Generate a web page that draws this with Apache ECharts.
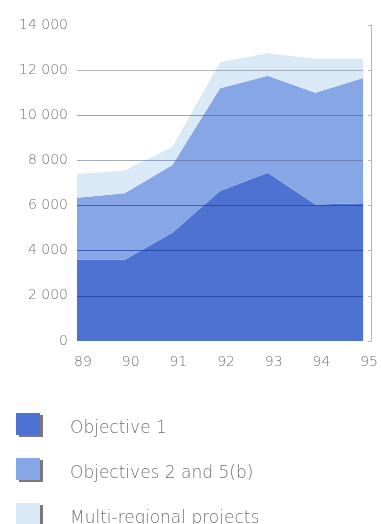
<!DOCTYPE html>
<html>
<head>
<meta charset="utf-8">
<script src="https://cdn.jsdelivr.net/npm/echarts@6/dist/echarts.min.js"></script>
<style>
  html, body { margin: 0; padding: 0; background: #ffffff; }
  #chart { width: 381px; height: 524px; }
</style>
</head>
<body>
<div id="chart"></div>
<script>
// Years on the category axis
const years = ['89', '90', '91', '92', '93', '94', '95'];

// Stacked amounts per programme type
const objective1 = [3600, 3600, 4800, 6650, 7450, 6050, 6100];
const objectives2and5b = [2750, 2950, 3000, 4550, 4300, 4950, 5550];
const multiRegional = [1050, 1000, 800, 1150, 1000, 1500, 850];

const seriesNames = ['Objective 1', 'Objectives 2 and 5(b)', 'Multi-regional projects'];
const seriesColors = ['#4d72d2', '#86a6e5', '#d9e9f6'];

const fontFamily = '"DejaVu Sans", Lato, sans-serif';
const textColor = '#727272';

// Y tick labels use a space as thousands separator: "14 000"
function formatThousands(v) {
  return String(v).replace(/\B(?=(\d{3})+(?!\d))/g, ' ');
}

function areaSeries(name, data, color) {
  return {
    name: name,
    type: 'line',
    stack: 'total',
    data: data,
    symbol: 'none',
    lineStyle: { width: 0 },
    areaStyle: { color: color, opacity: 1 },
    itemStyle: { color: color },
    emphasis: { disabled: true }
  };
}

// One single-item legend per row, stacked down the page;
// the label sits a little below the swatch centre
function legendRow(name, top) {
  return {
    orient: 'horizontal',
    left: 16,
    top: top,
    padding: 0,
    itemWidth: 24,
    itemHeight: 22,
    icon: 'rect',
    selectedMode: false,
    data: [name],
    itemStyle: {
      shadowColor: '#7a7a7a',
      shadowOffsetX: 3,
      shadowOffsetY: 2,
      shadowBlur: 0
    },
    formatter: function (n) { return '{t|' + n + '}'; },
    textStyle: {
      color: textColor,
      fontSize: 17,
      fontWeight: 200,
      fontFamily: fontFamily,
      rich: {
        t: {
          color: textColor,
          fontSize: 17,
          fontWeight: 200,
          fontFamily: fontFamily,
          padding: [10, 0, 0, 25]
        }
      }
    }
  };
}

const chart = echarts.init(document.getElementById('chart'), null, { renderer: 'canvas' });

chart.setOption({
  animation: false,
  backgroundColor: '#ffffff',
  grid: { left: 77, right: 14, top: 25, height: 316, containLabel: false },
  xAxis: {
    type: 'category',
    data: years,
    boundaryGap: false,
    axisLine: { show: false },
    axisTick: { show: false },
    axisLabel: {
      margin: 14,
      color: textColor,
      fontSize: 14,
      fontWeight: 200,
      fontFamily: fontFamily,
      padding: [0, 0, 0, 12]
    },
    splitLine: { show: false }
  },
  yAxis: [
    {
      type: 'value',
      min: 0,
      max: 14000,
      interval: 2000,
      z: 5,
      axisLine: { show: false },
      axisTick: { show: false },
      axisLabel: {
        margin: 9,
        color: textColor,
        fontSize: 14,
        fontWeight: 200,
        fontFamily: fontFamily,
        formatter: formatThousands
      },
      splitLine: {
        show: true,
        lineStyle: {
          // 0, 2 000 ... 14 000
          color: [
            'rgba(0,0,0,0)',
            'rgba(35, 60, 170, 0.75)',
            'rgba(35, 60, 170, 0.75)',
            'rgba(35, 60, 170, 0.7)',
            'rgba(90, 100, 150, 0.55)',
            'rgba(120, 60, 150, 0.55)',
            'rgba(110, 110, 130, 0.5)',
            'rgba(0,0,0,0)'
          ],
          width: 1
        }
      }
    },
    {
      type: 'value',
      min: 0,
      max: 14000,
      interval: 2000,
      position: 'right',
      offset: 8,
      axisLine: { show: true, lineStyle: { color: '#b5b5b5', width: 1 } },
      axisTick: { show: true, inside: true, length: 3, lineStyle: { color: '#b5b5b5' } },
      axisLabel: { show: false },
      splitLine: { show: false }
    }
  ],
  legend: [
    legendRow(seriesNames[0], 413),
    legendRow(seriesNames[1], 458),
    legendRow(seriesNames[2], 503)
  ],
  series: [
    areaSeries(seriesNames[0], objective1, seriesColors[0]),
    areaSeries(seriesNames[1], objectives2and5b, seriesColors[1]),
    areaSeries(seriesNames[2], multiRegional, seriesColors[2])
  ]
});
</script>
</body>
</html>
